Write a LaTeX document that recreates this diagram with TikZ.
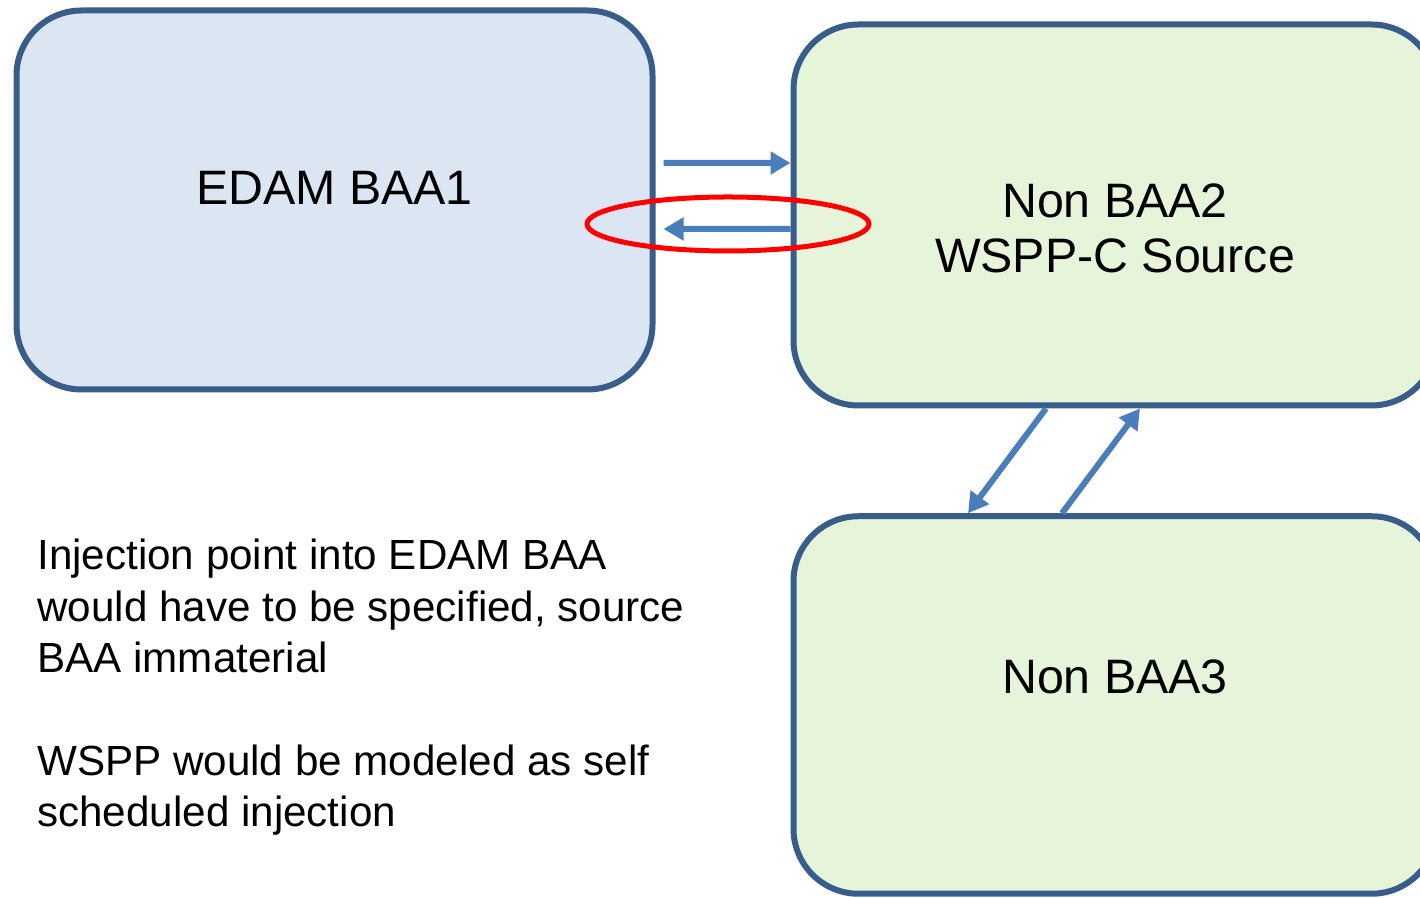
\documentclass[tikz,border=0pt]{standalone}
\usepackage{fontspec}
\setmainfont{Liberation Sans}
\usepackage{xcolor}
\usepackage{tikz}
\usetikzlibrary{positioning,shapes.geometric,arrows.meta}
\definecolor{boxline}{HTML}{385D8A}
\definecolor{flowblue}{HTML}{4A7EBB}
\definecolor{bluefill}{HTML}{DCE6F2}
\definecolor{greenfill}{HTML}{E6F4DA}

\begin{document}
\begin{tikzpicture}[
    baabox/.style={draw=boxline, line width=0.12cm, rounded corners=1.3cm, align=center,
        font=\fontsize{27.5}{31.3}\selectfont},
    flow/.style={draw=flowblue, line width=0.12cm, -{Triangle[length=0.4cm,width=0.44cm]}}]
    \useasboundingbox (0,0) rectangle (28.4,17.96);

    \node[baabox, fill=bluefill, minimum width=12.72cm, minimum height=7.58cm] (baa1) at (6.69,13.96) {EDAM BAA1\\[-0.62cm]};
    \node[baabox, fill=greenfill, minimum width=12.86cm, minimum height=7.62cm] (baa2) at (22.3,13.66) {\mbox{}\\[0.1cm]Non BAA2\\WSPP-C Source};
    \node[baabox, fill=greenfill, minimum width=12.86cm, minimum height=7.55cm] (baa3) at (22.3,3.86) {Non BAA3\\[0.02cm]};

    \draw[flow] ([shift={(0.16,0.74)}]baa1.east) -- ([yshift=1.04cm]baa2.west);
    \draw[flow] ([yshift=-0.28cm]baa2.west) -- ([shift={(0.16,-0.58)}]baa1.east);
    \draw[flow] ([xshift=-1.38cm]baa2.south) -- ([xshift=-2.94cm]baa3.north);
    \draw[flow] ([xshift=-1.06cm]baa3.north) -- ([xshift=0.5cm]baa2.south);

    \node[ellipse, draw=red, line width=0.1cm, minimum width=5.64cm, minimum height=1.08cm] (hilite) at (14.56,13.48) {};

    \node[anchor=base west, align=left, inner sep=0pt, font=\fontsize{24}{29.3}\selectfont] (note) at (0.74,1.42)
        {Injection point into EDAM BAA\\would have to be specified, source\\BAA immaterial\\[29.3pt]WSPP would be modeled as self\\scheduled injection};
\end{tikzpicture}
\end{document}
